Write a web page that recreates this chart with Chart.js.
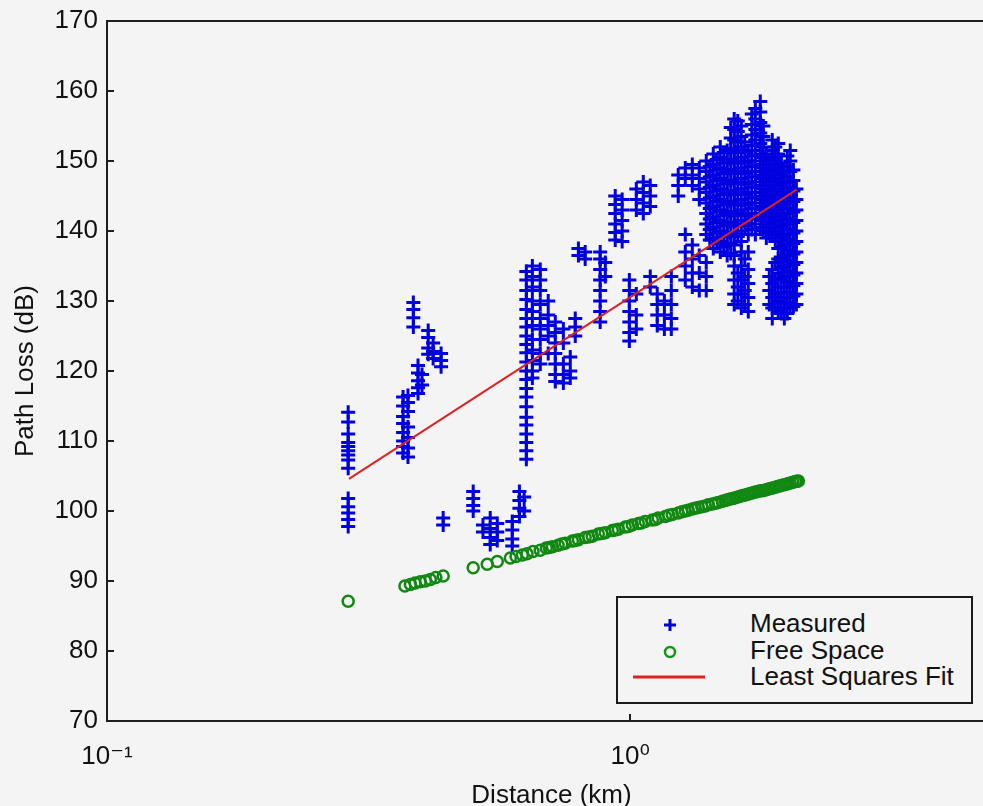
<!DOCTYPE html>
<html>
<head>
<meta charset="utf-8">
<script src="https://cdn.jsdelivr.net/npm/chart.js@4.4.0/dist/chart.umd.min.js"></script>
<style>
html,body{margin:0;padding:0;width:983px;height:806px;overflow:hidden;background:#f4f4f4;}
#wrap{position:relative;width:983px;height:806px;overflow:hidden;}
#c{position:absolute;left:0;top:0;}
#legend{position:absolute;left:616px;top:596px;width:353px;height:104px;border:2px solid #1a1a1a;background:#f4f4f4;
  font-family:'Liberation Sans',Arial,sans-serif;font-size:26px;color:#111;}
#legend .t{position:absolute;left:132px;line-height:27px;white-space:nowrap;}
#legend svg{position:absolute;left:0;top:0;}
</style>
</head>
<body>
<div id="wrap">
  <canvas id="c" width="1006" height="806"></canvas>
  <div id="legend">
    <svg width="353" height="104">
      <line x1="46" y1="27" x2="58" y2="27" stroke="#0000dd" stroke-width="3"/>
      <line x1="52" y1="21" x2="52" y2="33" stroke="#0000dd" stroke-width="3"/>
      <circle cx="52" cy="54" r="5" fill="none" stroke="#119911" stroke-width="2.5"/>
      <line x1="15" y1="79" x2="87" y2="79" stroke="#dd2222" stroke-width="3"/>
    </svg>
    <div class="t" style="top:12px">Measured</div>
    <div class="t" style="top:39px">Free Space</div>
    <div class="t" style="top:65px">Least Squares Fit</div>
  </div>
</div>
<script>
// ---------- data ----------
const measuredDistance = [
  0.289, 0.368, 0.376, 0.385, 0.393, 0.400, 0.411, 0.420, 0.435, 0.439,
  0.501, 0.523, 0.540, 0.557, 0.595, 0.614, 0.627,
  0.633, 0.650, 0.673, 0.697, 0.719, 0.745, 0.768, 0.785, 0.796, 0.820,
  0.876, 0.896, 0.936, 0.965, 0.996, 1.027, 1.059, 1.092, 1.126, 1.162, 1.198, 1.235, 1.274, 1.314, 1.355,
  1.397, 1.419, 1.441, 1.463, 1.486, 1.509, 1.532, 1.556, 1.580, 1.605, 1.630, 1.655, 1.681, 1.707,
  1.734, 1.772, 1.796, 1.820, 1.844, 1.868, 1.893, 1.918, 1.944, 1.970, 1.996, 2.022, 2.050, 2.077
];
const measuredLoss = [
  [114.1, 112.7, 111.0, 109.8, 109.2, 108.6, 108.0, 107.3, 106.1, 101.8, 100.6, 99.7, 98.8, 97.8],
  [116.3, 115.0, 113.5, 112.5, 111.2, 110.0, 109.2, 108.3],
  [116.5, 115.5, 114.2, 112.0, 110.5, 109.0, 107.7],
  [129.8, 128.8, 127.6, 126.3],
  [120.8, 119.7, 118.6, 117.6, 116.8],
  [119.5, 118.0],
  [125.8, 124.8, 123.3, 122.4],
  [124.0, 122.8, 121.8],
  [122.5, 121.5, 120.6],
  [99.0, 98.0],
  [102.8, 101.8, 100.8, 100.0],
  [98.0, 97.0],
  [99.0, 97.5, 96.2, 95.2],
  [98.2, 97.0, 95.8],
  [98.5, 97.3, 96.0, 95.0],
  [102.8, 101.5, 100.4, 99.2],
  [102.0, 100.0],
  [134.2, 133.0, 131.5, 130.2, 128.8, 127.5, 126.3, 125.0, 123.8, 122.6, 121.3, 120.0, 118.8, 117.5, 116.3, 114.9, 113.4, 112.3, 111.0, 109.8, 108.6, 107.4],
  [135.0, 133.5, 132.0, 130.0, 128.5, 126.5, 124.5, 123.0, 121.5, 120.0, 119.0],
  [134.5, 133.0, 131.5, 129.5, 127.5, 126.0, 124.5, 122.5, 121.0],
  [130.0, 128.0, 126.5, 125.0, 122.5],
  [127.0, 125.5, 124.0, 122.5, 121.0, 119.5, 118.5],
  [126.0, 124.0, 121.0, 119.5, 118.3],
  [122.0, 120.0, 119.0],
  [127.5, 126.3, 125.0],
  [137.5, 136.5],
  [137.0, 136.0],
  [137.0, 136.0, 134.5, 133.0, 131.5, 130.0, 128.5, 127.0],
  [135.5, 133.5],
  [145.0, 143.8, 142.5, 141.0, 139.8, 138.7],
  [144.5, 143.0, 141.5, 140.0, 138.5],
  [133.0, 131.5, 130.0, 128.5, 127.0, 125.5, 124.3],
  [146.0, 144.5, 143.0, 131.0, 128.0, 126.0],
  [147.0, 145.5, 144.0, 142.5],
  [146.5, 145.0, 143.5, 133.5, 132.0],
  [131.0, 129.5, 128.0, 126.5],
  [130.0, 128.0, 126.0],
  [133.5, 131.5, 129.5, 127.5, 126.0],
  [148.0, 146.5, 145.0],
  [149.0, 147.5, 139.5, 137.0, 135.0, 133.0],
  [149.5, 148.0, 146.5, 138.0, 136.0, 134.0, 132.0],
  [149.0, 147.5, 146.0, 144.5, 136.5, 134.0, 131.5],
  [150.0, 148.5, 147.0, 145.5, 144.0, 142.5, 141.0, 139.5, 135.5, 133.5, 131.5],
  [149.2, 147.7, 146.2, 144.7, 143.2, 141.7, 140.2, 138.7],
  [151.0, 149.5, 148.0, 146.5, 145.0, 143.5, 142.0, 140.5, 139.0, 137.5],
  [150.2, 148.7, 147.2, 145.7, 144.2, 142.7, 141.2, 139.7, 138.2],
  [152.0, 150.5, 149.0, 147.5, 146.0, 144.5, 143.0, 141.5, 140.0, 138.5, 137.0],
  [151.2, 149.7, 148.2, 146.7, 145.2, 143.7, 142.2, 140.7, 139.2, 137.7],
  [151.5, 150.0, 148.5, 147.0, 145.5, 144.0, 142.5, 141.0, 139.5, 138.0, 136.5],
  [154.8, 153.3, 151.8, 150.3, 148.8, 147.3, 145.8, 144.3, 142.8, 141.3, 139.8, 138.3, 136.8],
  [156.0, 154.5, 153.0, 151.5, 150.0, 148.5, 147.0, 145.5, 144.0, 142.5, 141.0, 139.5, 138.0, 136.5, 135.0, 133.0, 131.0, 129.5],
  [155.7, 154.2, 152.7, 151.2, 149.7, 148.2, 146.7, 145.2, 143.7, 142.2, 140.7, 139.2, 134.0, 132.0, 130.0],
  [155.0, 153.5, 152.0, 150.5, 149.0, 147.5, 146.0, 144.5, 143.0, 141.5, 140.0, 138.5, 137.0, 135.0, 133.0, 131.0, 129.0],
  [152.7, 151.2, 149.7, 148.2, 146.7, 145.2, 143.7, 142.2, 140.7, 136.0, 133.5, 131.5, 129.5],
  [151.5, 150.0, 148.5, 147.0, 145.5, 144.0, 142.5, 141.0, 139.5, 137.0, 134.5, 132.5, 130.5, 128.5],
  [156.7, 155.2, 153.7, 152.2, 150.7, 149.2, 147.7, 146.2, 144.7, 143.2, 141.7, 140.2],
  [157.5, 156.0, 154.5, 153.0, 151.5, 150.0, 148.5, 147.0, 145.5, 144.0, 142.5, 141.0, 139.5],
  [158.5, 157.0, 155.5, 154.0, 152.5, 151.0, 149.5, 148.0, 146.5, 145.0, 143.5, 142.0, 140.5],
  [155.0, 153.5, 152.0, 150.5, 149.0, 147.5, 146.0, 144.5, 143.0, 141.5, 140.0],
  [151.0, 149.5, 148.0, 146.5, 145.0, 143.5, 142.0, 140.5, 139.0],
  [150.2, 148.7, 147.2, 145.7, 144.2, 142.7, 141.2, 139.7, 133.5, 131.5, 129.5],
  [153.0, 151.5, 150.0, 148.5, 147.0, 145.5, 144.0, 142.5, 141.0, 139.5, 134.5, 132.5, 130.5, 129.0, 127.5],
  [152.0, 150.5, 149.0, 147.5, 146.0, 144.5, 143.0, 141.5, 140.0, 138.5, 135.5, 133.0, 131.0, 129.0],
  [152.5, 151.0, 149.5, 148.0, 146.5, 145.0, 143.5, 142.0, 140.5, 139.0, 137.5, 136.0, 134.0, 132.0, 130.0, 128.5],
  [149.7, 148.2, 146.7, 145.2, 143.7, 142.2, 140.7, 139.2, 137.7, 136.2, 134.7, 133.2, 131.2, 129.7, 128.2],
  [148.5, 147.0, 145.5, 144.0, 142.5, 141.0, 139.5, 138.0, 136.5, 135.0, 133.5, 132.0, 130.5, 129.0, 127.5],
  [150.7, 149.2, 147.7, 146.2, 144.7, 143.2, 141.7, 140.2, 138.7, 137.2, 135.7, 134.2, 132.7, 131.2, 129.7, 128.2],
  [151.5, 150.0, 148.5, 147.0, 145.5, 144.0, 142.5, 141.0, 139.5, 138.0, 136.5, 135.0, 133.5, 132.0, 130.5, 129.0],
  [148.7, 147.2, 145.7, 144.2, 142.7, 141.2, 139.7, 138.2, 136.7, 135.2, 133.7, 132.2, 130.7, 129.2],
  [146.0, 144.5, 143.0, 141.5, 140.0, 138.5, 137.0, 135.5, 134.0, 132.5, 131.0, 129.5]
];

const freeSpaceDistance = [
  0.289, 0.371, 0.380, 0.388, 0.397, 0.406, 0.415, 0.425, 0.439, 0.501, 0.533, 0.557,
  0.590, 0.605, 0.622, 0.635, 0.652, 0.673, 0.691, 0.700, 0.710, 0.728, 0.740, 0.751, 0.775, 0.785, 0.796,
  0.820, 0.833, 0.846, 0.869, 0.882, 0.896, 0.924, 0.936, 0.949, 0.978, 0.992, 1.009, 1.036, 1.050, 1.068,
  1.102, 1.117, 1.131, 1.167, 1.185, 1.203, 1.235, 1.255, 1.274, 1.290, 1.314, 1.330, 1.349, 1.370, 1.391,
  1.410, 1.435, 1.455, 1.474, 1.500, 1.519, 1.535, 1.553, 1.570, 1.588, 1.605, 1.623, 1.640, 1.659, 1.677,
  1.696, 1.715, 1.734, 1.753, 1.772, 1.792, 1.812, 1.832, 1.852, 1.872, 1.893, 1.914, 1.935, 1.957, 1.979,
  2.000, 2.022, 2.045, 2.068, 2.082, 2.096
];
const freeSpaceLoss = [
  87.1, 89.3, 89.5, 89.7, 89.9, 90.0, 90.2, 90.5, 90.7, 91.9, 92.4, 92.8,
  93.3, 93.5, 93.7, 93.9, 94.2, 94.4, 94.7, 94.8, 94.9, 95.1, 95.3, 95.4, 95.7, 95.8, 95.9,
  96.2, 96.3, 96.4, 96.7, 96.8, 96.9, 97.2, 97.3, 97.4, 97.7, 97.8, 98.0, 98.2, 98.3, 98.5,
  98.7, 98.8, 99.0, 99.2, 99.4, 99.5, 99.7, 99.9, 100.0, 100.1, 100.3, 100.4, 100.5, 100.6, 100.7,
  100.9, 101.0, 101.1, 101.2, 101.4, 101.5, 101.6, 101.7, 101.8, 101.9, 102.0, 102.1, 102.2, 102.3, 102.4,
  102.5, 102.6, 102.7, 102.8, 102.9, 102.9, 103.0, 103.1, 103.2, 103.3, 103.4, 103.5, 103.6, 103.7, 103.8,
  103.9, 104.0, 104.1, 104.2, 104.25, 104.3
];

const fitDistance = [0.29, 2.08];
const fitLoss = [104.6, 145.9];

const xTickValues = [0.1, 1];
const xTickLabels = ['10\u207B\u00B9', '10\u2070'];
const yTickValues = [70, 80, 90, 100, 110, 120, 130, 140, 150, 160, 170];

// ---------- build datasets ----------
const measuredPoints = [];
measuredDistance.forEach((d, i) => measuredLoss[i].forEach(v => measuredPoints.push({x: d, y: v})));
const freeSpacePoints = freeSpaceDistance.map((d, i) => ({x: d, y: freeSpaceLoss[i]}));
const fitPoints = fitDistance.map((d, i) => ({x: d, y: fitLoss[i]}));

const FONT = "'Liberation Sans', 'DejaVu Sans', Arial, sans-serif";
const AXIS = '#1e1e1e';

const framePlugin = {
  id: 'frameTop',
  afterDraw(chart) {
    const {ctx, chartArea} = chart;
    ctx.save();
    ctx.strokeStyle = AXIS;
    ctx.lineWidth = 2;
    ctx.beginPath();
    ctx.moveTo(chartArea.left - 1, chartArea.top);
    ctx.lineTo(chartArea.right, chartArea.top);
    ctx.stroke();
    ctx.restore();
  }
};

new Chart(document.getElementById('c'), {
  type: 'scatter',
  data: {
    datasets: [
      {
        label: 'Least Squares Fit', data: fitPoints, showLine: true, order: 0,
        borderColor: '#dd2222', borderWidth: 2, pointRadius: 0, fill: false
      },
      {
        label: 'Free Space', data: freeSpacePoints, order: 1,
        pointStyle: 'circle', pointRadius: 5.5, borderColor: '#118811', borderWidth: 2.5,
        backgroundColor: 'rgba(0,0,0,0)'
      },
      {
        label: 'Measured', data: measuredPoints, order: 2,
        pointStyle: 'cross', pointRadius: 7, borderColor: '#0000e0', borderWidth: 3,
        backgroundColor: '#0000e0'
      }
    ]
  },
  options: {
    responsive: false,
    animation: false,
    devicePixelRatio: 1,
    layout: {padding: {top: 21, left: 0, right: 0, bottom: 0}},
    plugins: {legend: {display: false}, tooltip: {enabled: false}},
    scales: {
      x: {
        type: 'logarithmic', position: 'bottom', min: 0.1, max: 5,
        afterBuildTicks(scale) { scale.ticks = xTickValues.map(v => ({value: v})); },
        afterFit(scale) { scale.height = 85; scale.paddingLeft = 0; scale.paddingRight = 0; },
        ticks: {
          autoSkip: false, maxRotation: 0, padding: 27, color: '#111',
          font: {family: FONT, size: 26},
          callback(value) { const i = xTickValues.indexOf(value); return i >= 0 ? xTickLabels[i] : ''; }
        },
        grid: {drawOnChartArea: false, drawTicks: true, tickLength: -7, color: AXIS, lineWidth: 2},
        border: {display: true, color: AXIS, width: 2},
        title: {display: true, text: 'Distance (km)', color: '#111',
          font: {family: FONT, size: 26, lineHeight: 0.75}, padding: {top: 0, bottom: 0}}
      },
      y: {
        type: 'linear', position: 'left', min: 70, max: 170,
        afterBuildTicks(scale) { scale.ticks = yTickValues.map(v => ({value: v})); },
        afterFit(scale) { scale.width = 107; scale.paddingTop = 0; scale.paddingBottom = 0; },
        ticks: {padding: 16, color: '#111', font: {family: FONT, size: 26}},
        grid: {drawOnChartArea: false, drawTicks: true, tickLength: -7, color: AXIS, lineWidth: 2},
        border: {display: true, color: AXIS, width: 2},
        title: {display: true, text: 'Path Loss (dB)', color: '#111',
          font: {family: FONT, size: 26, lineHeight: 0.9}, padding: {top: 14, bottom: 0}}
      }
    }
  },
  plugins: [framePlugin]
});
</script>
</body>
</html>
